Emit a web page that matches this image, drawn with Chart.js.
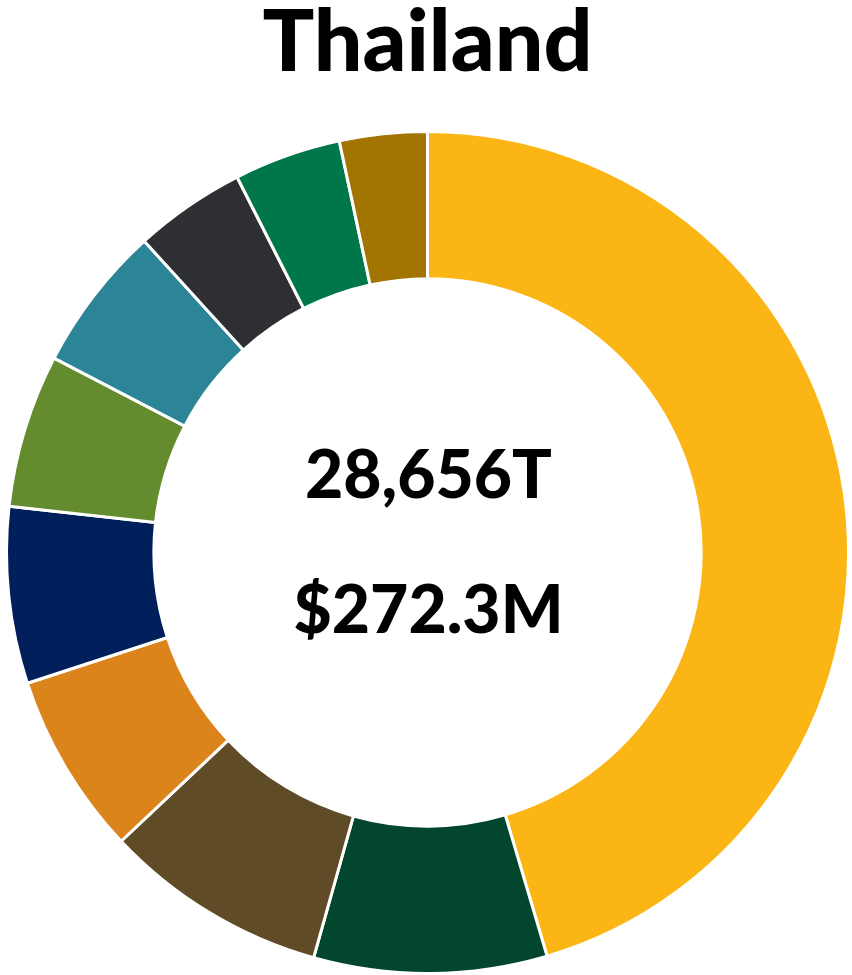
<!DOCTYPE html>
<html lang="en">
<head>
    <meta charset="UTF-8">
    <title>Thailand</title>
    <style>
        body {
            margin: 0;
            padding: 0;
            background-color: #fff;
        }
        .chart-box {
            width: 852px;
            height: 975px;
            position: relative;
        }
    </style>
</head>
<body>
    <div class="chart-box">
        <canvas id="thaiChart"></canvas>
    </div>
    <script src="https://cdn.jsdelivr.net/npm/chart.js@4.4.1/dist/chart.umd.min.js"></script>
    <script>
        // Segment shares, clockwise from 12 o'clock
        const segments = ['S1', 'S2', 'S3', 'S4', 'S5', 'S6', 'S7', 'S8', 'S9', 'S10'];
        const shares = [163.5, 32.2, 31.0, 25.2, 24.4, 21.2, 20.2, 15.4, 14.8, 12.1];
        const colors = ['#FBB615', '#02462D', '#604B27', '#DC841C', '#001F5B',
                        '#638C2F', '#2B8596', '#2E2F33', '#00774A', '#A27400'];
        const titleText = 'Thailand';
        const centerLines = ['28,656T', '$272.3M'];

        // Draws the two totals in the hole of the ring
        const centerText = {
            id: 'centerText',
            afterDraw(chart) {
                const { ctx, chartArea } = chart;
                const cx = (chartArea.left + chartArea.right) / 2 + 1;
                const cy = (chartArea.top + chartArea.bottom) / 2;
                ctx.save();
                ctx.fillStyle = '#000';
                ctx.textAlign = 'center';
                ctx.textBaseline = 'alphabetic';
                ctx.font = '900 66px Lato';
                ctx.fillText(centerLines[0], cx, cy - 55);
                ctx.fillText(centerLines[1], cx, cy + 80);
                ctx.restore();
            }
        };

        new Chart(document.getElementById('thaiChart'), {
            type: 'doughnut',
            data: {
                labels: segments,
                datasets: [{
                    data: shares,
                    backgroundColor: colors,
                    borderColor: '#fff',
                    borderWidth: 3
                }]
            },
            options: {
                responsive: true,
                maintainAspectRatio: false,
                animation: false,
                cutout: '65%',
                layout: { padding: { left: 3 } },
                plugins: {
                    legend: { display: false },
                    tooltip: { enabled: false },
                    title: {
                        display: true,
                        text: titleText,
                        color: '#000',
                        font: { family: 'Lato', size: 86, weight: 900, lineHeight: 1.0 },
                        padding: { top: 0, bottom: 44 }
                    }
                }
            },
            plugins: [centerText]
        });
    </script>
</body>
</html>
